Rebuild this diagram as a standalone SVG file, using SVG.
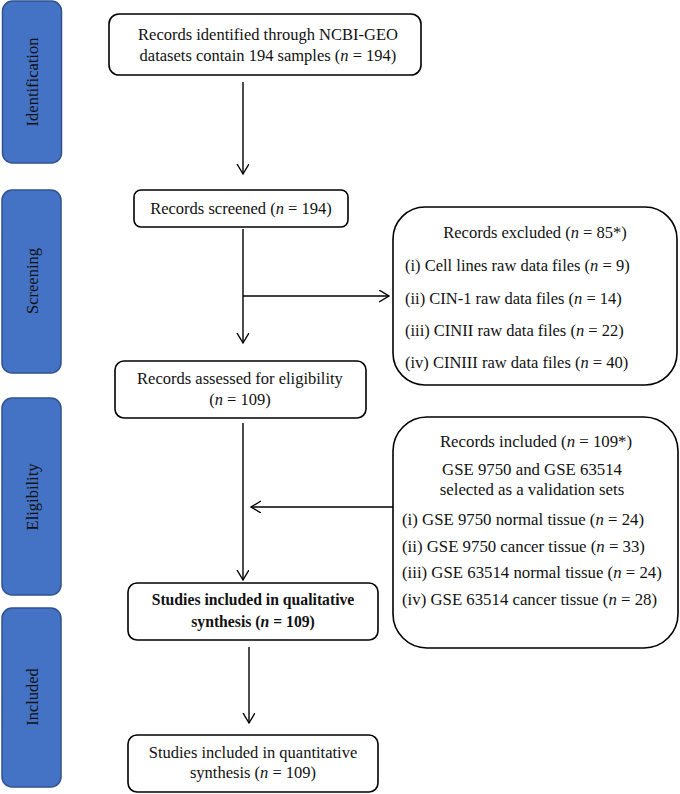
<svg xmlns="http://www.w3.org/2000/svg" width="680" height="794" viewBox="0 0 680 794">
<defs>
<style>
.side{fill:#4472C4;stroke:#2F528F;stroke-width:1.5}
.sl{font-family:"Liberation Serif",serif;font-size:16.5px;fill:#111;text-anchor:middle}
.box{fill:#fff;stroke:#000;stroke-width:1.6}
.t{font-family:"Liberation Serif",serif;font-size:16.5px;fill:#111}
.s{font-size:16.8px}
.c{text-anchor:middle}
.b{font-weight:bold;font-size:15.7px}
.ln{stroke:#000;stroke-width:1.4;fill:none}
</style>
<marker id="ah" markerWidth="14" markerHeight="14" refX="10" refY="6" orient="auto" markerUnits="userSpaceOnUse">
<polyline points="0,0 10,6 0,12" fill="none" stroke="#000" stroke-width="1.4"/>
</marker>
</defs>
<rect width="680" height="794" fill="#fff"/>
<g id="side-identification"><rect class="side" x="2.5" y="1" width="59" height="162" rx="10"/><text class="sl" transform="translate(38,82) rotate(-90)">Identification</text></g>
<g id="side-screening"><rect class="side" x="2" y="190" width="59" height="183" rx="10"/><text class="sl" transform="translate(38,281) rotate(-90)">Screening</text></g>
<g id="side-eligibility"><rect class="side" x="2" y="398" width="59" height="197" rx="10"/><text class="sl" transform="translate(38,497) rotate(-90)">Eligibility</text></g>
<g id="side-included"><rect class="side" x="2" y="608" width="59" height="179" rx="10"/><text class="sl" transform="translate(38,697) rotate(-90)">Included</text></g>

<g id="identified"><rect class="box" x="109" y="14" width="312" height="61" rx="10"/>
<text class="t c" x="268" y="40">Records identified through NCBI-GEO</text>
<text class="t c" x="268" y="61">datasets contain 194 samples (<tspan font-style="italic">n</tspan> = 194)</text></g>

<g id="screened"><rect class="box" x="134" y="190" width="214" height="37" rx="7"/>
<text class="t c" x="241" y="214">Records screened (<tspan font-style="italic">n</tspan> = 194)</text></g>

<g id="excluded"><rect class="box" x="393" y="207" width="284" height="178" rx="32"/>
<text class="t c" x="535" y="238">Records excluded (<tspan font-style="italic">n</tspan> = 85*)</text>
<text class="t" x="405" y="271">(i) Cell lines raw data files (<tspan font-style="italic">n</tspan> = 9)</text>
<text class="t" x="405" y="304">(ii) CIN-1 raw data files (<tspan font-style="italic">n</tspan> = 14)</text>
<text class="t" x="405" y="336">(iii) CINII raw data files (<tspan font-style="italic">n</tspan> = 22)</text>
<text class="t" x="405" y="368">(iv) CINIII raw data files (<tspan font-style="italic">n</tspan> = 40)</text></g>

<g id="assessed"><rect class="box" x="115" y="361" width="251" height="57" rx="9"/>
<text class="t c" x="240" y="384">Records assessed for eligibility</text>
<text class="t c" x="240" y="405">(<tspan font-style="italic">n</tspan> = 109)</text></g>

<g id="included-records"><rect class="box" x="393" y="417" width="285" height="231" rx="34"/>
<text class="t s c" x="536" y="447">Records included (<tspan font-style="italic">n</tspan> = 109*)</text>
<text class="t s c" x="532" y="475">GSE 9750 and GSE 63514</text>
<text class="t s c" x="532" y="495">selected as a validation sets</text>
<text class="t s" x="402" y="525">(i) GSE 9750 normal tissue (<tspan font-style="italic">n</tspan> = 24)</text>
<text class="t s" x="402" y="552">(ii) GSE 9750 cancer tissue (<tspan font-style="italic">n</tspan> = 33)</text>
<text class="t s" x="402" y="578">(iii) GSE 63514 normal tissue (<tspan font-style="italic">n</tspan> = 24)</text>
<text class="t s" x="402" y="605">(iv) GSE 63514 cancer tissue (<tspan font-style="italic">n</tspan> = 28)</text></g>

<g id="qualitative"><rect class="box" x="128" y="583" width="250" height="57" rx="9"/>
<text class="t c b" x="253" y="605">Studies included in qualitative</text>
<text class="t c b" x="253" y="627">synthesis (<tspan font-style="italic">n</tspan> = 109)</text></g>

<g id="quantitative"><rect class="box" x="128" y="735" width="250" height="57" rx="9"/>
<text class="t c" x="253" y="758">Studies included in quantitative</text>
<text class="t c" x="253" y="778">synthesis (<tspan font-style="italic">n</tspan> = 109)</text></g>

<g id="connectors">
<line class="ln" x1="243" y1="82" x2="243" y2="174" marker-end="url(#ah)"/>
<line class="ln" x1="243" y1="229" x2="243" y2="343" marker-end="url(#ah)"/>
<line class="ln" x1="243" y1="296" x2="389" y2="296" marker-end="url(#ah)"/>
<line class="ln" x1="243" y1="423" x2="243" y2="580" marker-end="url(#ah)"/>
<line class="ln" x1="393" y1="507" x2="251" y2="507" marker-end="url(#ah)"/>
<line class="ln" x1="249" y1="647" x2="249" y2="723" marker-end="url(#ah)"/>
</g>
</svg>
